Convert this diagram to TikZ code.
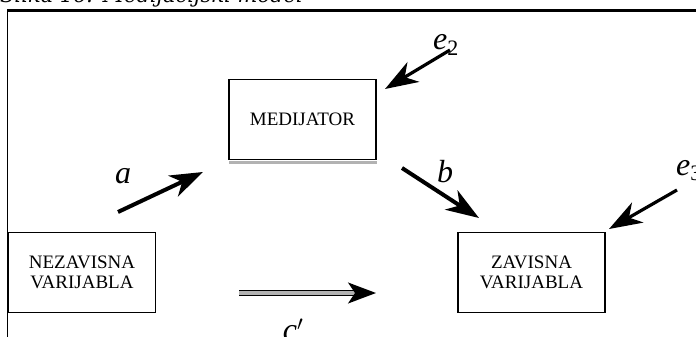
\documentclass[tikz,border=0pt]{standalone}
\usepackage{fontspec}
\setmainfont{Liberation Serif}
\newfontfamily\capfont{DejaVu Serif}
\usetikzlibrary{arrows.meta}
\begin{document}
\begin{tikzpicture}[x=1pt,y=-1pt,
  varbox/.style={draw=black,line width=1.1pt,minimum width=147pt,minimum height=80pt,
    align=center,font=\fontsize{19}{20.5}\selectfont,inner sep=0pt},
  lbl/.style={font=\fontsize{32}{32}\selectfont\itshape,inner sep=0pt},
  arr/.style={line width=4pt,-{Stealth[length=33pt,width=23pt,inset=10pt]}}]
\useasboundingbox (0,0) rectangle (696,337);
\clip (0,0) rectangle (696,337);
% caption (cut off at top)
\node[anchor=base west,inner sep=0pt,font=\capfont\fontsize{21}{21}\selectfont\itshape] (cap) at (0,3) {Slika 16: Medijacijski model};
% frame
\draw[line width=3pt] (7,10.5) -- (700,10.5);
\draw[line width=1.8pt] (7.5,10.5) -- (7.5,340);
% boxes
\node[varbox] (med) at (302.5,119.5) {MEDIJATOR};
\draw[gray!60,line width=3pt] ([xshift=1pt,yshift=-2pt]med.south west) -- ([yshift=-2pt]med.south east);
\node[varbox] (nez) at (82,272.5) {NEZAVISNA\\VARIJABLA};
\node[varbox] (zav) at (531.5,272.5) {ZAVISNA\\VARIJABLA};
% free arrow ends
\coordinate (a1) at (118,212);
\coordinate (a2) at (203,172);
\coordinate (b1) at (402,168);
\coordinate (b2) at (479,218);
\coordinate (e21) at (450,50);
\coordinate (e22) at (385,89);
\coordinate (e31) at (677,190);
\coordinate (e32) at (609,229);
\coordinate (c1) at (239,293);
\coordinate (c2) at (376,293);
% arrows
\draw[arr] (a1) -- (a2);
\draw[arr] (b1) -- (b2);
\draw[arr,line width=3.2pt] (e21) -- (e22);
\draw[arr,line width=3.2pt] (e31) -- (e32);
\draw[line width=1.5pt,double=gray!60,double distance=3.5pt,
  -{Stealth[length=28pt,width=21pt,inset=7pt]}] (c1) -- (c2);
% labels
\node[lbl,anchor=base] (la) at (123,183) {a};
\node[lbl,anchor=base] (lb) at (445,182) {b};
\node[lbl,anchor=base] (le2) at (446,50) {e\textsubscript{\fontsize{22}{22}\selectfont\upshape 2}};
\node[lbl,anchor=base west] (le3) at (676,175) {e\textsubscript{\fontsize{22}{22}\selectfont\upshape 3}};
\node[lbl,anchor=base] (lc) at (293,340) {c$'$};
\end{tikzpicture}
\end{document}
